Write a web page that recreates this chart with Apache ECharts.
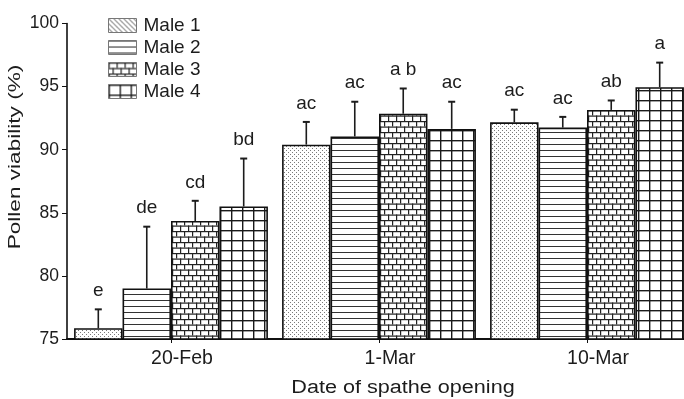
<!DOCTYPE html>
<html>
<head>
<meta charset="utf-8">
<script src="https://cdn.jsdelivr.net/npm/echarts@6/dist/echarts.min.js"></script>
<style>
  html, body { margin: 0; padding: 0; background: #fff; }
  #chart { width: 684px; height: 399px; }
</style>
</head>
<body>
<div id="chart"></div>
<script>
// Pollen viability by date of spathe opening, four males
const categories = ['20-Feb', '1-Mar', '10-Mar'];
const seriesNames = ['Male 1', 'Male 2', 'Male 3', 'Male 4'];
const male1 = [75.85, 90.4, 92.17];
const male2 = [79.0, 91.05, 91.75];
const male3 = [84.35, 92.85, 93.15];
const male4 = [85.5, 91.65, 94.95];
const err1 = [1.5, 1.8, 1.0];
const err2 = [4.9, 2.75, 0.85];
const err3 = [1.6, 2.0, 0.75];
const err4 = [3.8, 2.15, 1.95];
const letters1 = ['e', 'ac', 'ac'];
const letters2 = ['de', 'ac', 'ac'];
const letters3 = ['cd', 'a b', 'ab'];
const letters4 = ['bd', 'ac', 'a'];
const yTicks = [75, 80, 85, 90, 95, 100];

const means = [male1, male2, male3, male4];
const errs = [err1, err2, err3, err4];
const letters = [letters1, letters2, letters3, letters4];

const FONT = '"Liberation Sans", Arial, Helvetica, sans-serif';
const INK = '#1c1c1c';
const CAT_GAP = 0.068;

// ---- fill patterns ----
function tile(w, h, draw) {
  const c = document.createElement('canvas');
  c.width = w; c.height = h;
  const ctx = c.getContext('2d');
  ctx.fillStyle = '#fff';
  ctx.fillRect(0, 0, w, h);
  draw(ctx);
  return { image: c, repeat: 'repeat' };
}
const dots = tile(4, 4, ctx => {
  ctx.fillStyle = '#7a7a7a';
  ctx.fillRect(0, 0, 1, 1);
  ctx.fillRect(2, 2, 1, 1);
});
const hatch = tile(5, 5, ctx => {
  ctx.strokeStyle = '#555';
  ctx.lineWidth = 1;
  ctx.beginPath();
  ctx.moveTo(-1, -1); ctx.lineTo(6, 6);
  ctx.moveTo(-1, 4); ctx.lineTo(1, 6);
  ctx.moveTo(4, -1); ctx.lineTo(6, 1);
  ctx.stroke();
});
const hlines = tile(6, 6, ctx => {
  ctx.fillStyle = '#333';
  ctx.fillRect(0, 0, 6, 1);
});
const bricks = tile(16, 11, ctx => {
  ctx.fillStyle = '#222';
  ctx.fillRect(0, 0, 16, 1.2);
  ctx.fillRect(0, 5.5, 16, 1.2);
  ctx.fillRect(0, 0, 1.2, 5.5);
  ctx.fillRect(8, 0, 1.2, 5.5);
  ctx.fillRect(4, 5.5, 1.2, 5.5);
  ctx.fillRect(12, 5.5, 1.2, 5.5);
});
const cells = tile(11, 10, ctx => {
  ctx.fillStyle = '#1a1a1a';
  ctx.fillRect(0, 0, 11, 1.4);
  ctx.fillRect(0, 0, 1.4, 10);
});
const fills = [dots, hlines, bricks, cells];
const legendFills = [hatch, hlines, bricks, cells];

// error bars with significance letters, placed on the matching bar
function errorSeries(k) {
  return {
    type: 'custom',
    name: seriesNames[k],
    z: 5,
    data: categories.map((c, i) => [i, means[k][i], errs[k][i]]),
    renderItem(params, api) {
      const ci = api.value(0), m = api.value(1), e = api.value(2);
      const label = letters[k][params.dataIndex];
      const base = api.coord([ci, m]);
      const top = api.coord([ci, m + e]);
      const band = api.size([1, 0])[0];
      const barW = band * (1 - CAT_GAP) / 4;
      const x = base[0] + (k - 1.5) * barW;
      return {
        type: 'group',
        children: [
          { type: 'line', shape: { x1: x, y1: base[1], x2: x, y2: top[1] },
            style: { stroke: INK, lineWidth: 1.6 } },
          { type: 'line', shape: { x1: x - 3.5, y1: top[1], x2: x + 3.5, y2: top[1] },
            style: { stroke: INK, lineWidth: 2 } },
          { type: 'text', x: x, y: top[1] - 9,
            style: { text: label, fill: INK, font: '19px ' + FONT,
                     align: 'center', verticalAlign: 'bottom' } }
        ]
      };
    }
  };
}

const barSeries = seriesNames.map((name, k) => ({
  type: 'bar',
  name: name,
  data: means[k],
  barGap: 0,
  barCategoryGap: (CAT_GAP * 100) + '%',
  itemStyle: { color: fills[k], borderColor: '#111', borderWidth: 1.6 },
  emphasis: { disabled: true }
}));

const chart = echarts.init(document.getElementById('chart'), null, { renderer: 'canvas' });
chart.setOption({
  animation: false,
  backgroundColor: '#fff',
  grid: { left: 67, right: -7, top: 23.5, bottom: 60, outerBoundsMode: 'none' },
  legend: {
    orient: 'vertical',
    left: 103,
    top: 11,
    itemWidth: 28,
    itemHeight: 14,
    itemGap: 3,
    icon: 'rect',
    selectedMode: false,
    textStyle: { fontFamily: FONT, fontSize: 19, color: INK, padding: [0, 0, 0, 2] },
    data: seriesNames.map((n, k) => ({
      name: n,
      itemStyle: { color: legendFills[k], borderColor: '#777', borderWidth: 1 }
    }))
  },
  xAxis: {
    type: 'category',
    data: categories,
    axisLine: { show: true, lineStyle: { color: '#111', width: 2 } },
    axisTick: { show: true, alignWithLabel: true, length: 4, lineStyle: { color: '#111', width: 1 } },
    axisLabel: { fontFamily: FONT, fontSize: 19.5, color: INK, margin: 10, padding: [0, 0, 0, 22] }
  },
  yAxis: {
    type: 'value',
    min: yTicks[0],
    max: yTicks[yTicks.length - 1],
    interval: 5,
    splitLine: { show: false },
    axisLine: { show: true, lineStyle: { color: '#111', width: 1.6 } },
    axisTick: { show: true, inside: false, length: 5, lineStyle: { color: '#111', width: 1 } },
    axisLabel: { fontFamily: FONT, fontSize: 17.5, color: INK, margin: 8 }
  },
  graphic: [
    { type: 'text', x: 15.5, y: 157, rotation: Math.PI / 2, scaleX: 1.33,
      style: { text: 'Pollen viability (%)', font: '17px ' + FONT, fill: INK,
               align: 'center', verticalAlign: 'middle' } },
    { type: 'text', x: 403, y: 388, scaleX: 1.2,
      style: { text: 'Date of spathe opening', font: '18px ' + FONT, fill: INK,
               align: 'center', verticalAlign: 'middle' } }
  ],
  series: barSeries.concat(seriesNames.map((n, k) => errorSeries(k)))
});
</script>
</body>
</html>
